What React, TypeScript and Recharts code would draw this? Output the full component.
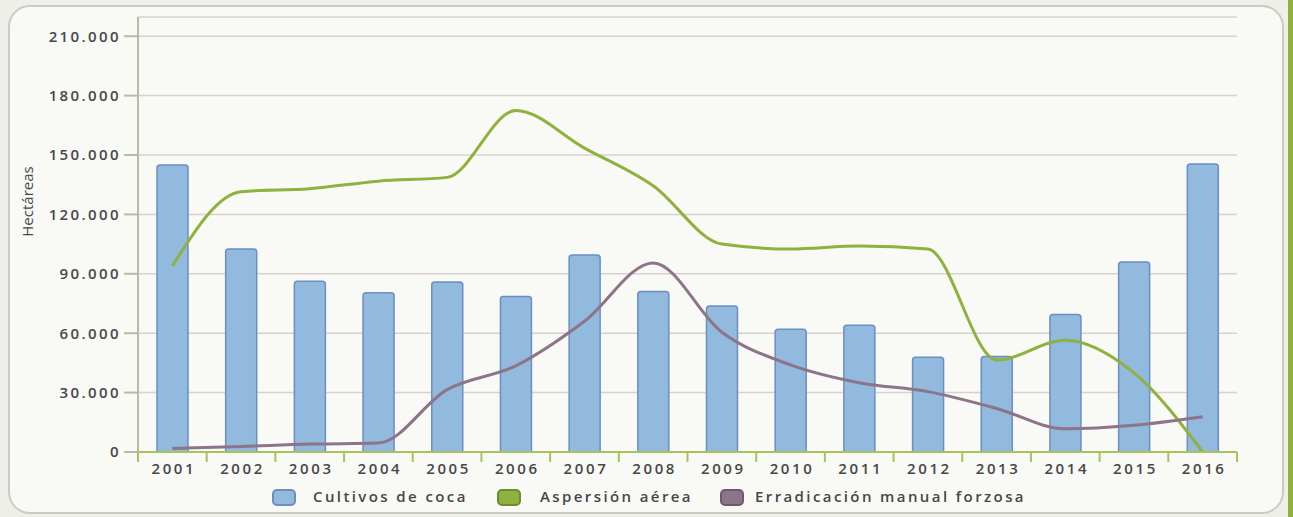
import { Bar, CartesianGrid, ComposedChart, Line, XAxis, YAxis } from "recharts";

const YEARS = ["2001", "2002", "2003", "2004", "2005", "2006", "2007", "2008", "2009", "2010", "2011", "2012", "2013", "2014", "2015", "2016"];
// hectáreas
const COCA = [145000, 102500, 86300, 80400, 85800, 78500, 99500, 81000, 73700, 62000, 64000, 47800, 48200, 69500, 96000, 145500];
const ASPERSION = [94000, 131500, 133000, 136800, 138700, 172500, 153500, 134500, 105000, 102500, 104000, 102500, 46500, 56500, 40000, 0];
const ERRADICACION = [1800, 2800, 4000, 4500, 31500, 43500, 66000, 95500, 60500, 44000, 35000, 30500, 22000, 11700, 13500, 17800];
const Y_TICKS = [0, 30000, 60000, 90000, 120000, 150000, 180000, 210000];

const SERIES = [
  { key: "coca", name: "Cultivos de coca", fill: "#92b9de", stroke: "#6a8fc0" },
  { key: "aspersion", name: "Aspersión aérea", fill: "#8fb23f", stroke: "#6d8a34" },
  { key: "erradicacion", name: "Erradicación manual forzosa", fill: "#8d7488", stroke: "#6c5a68" },
];

const rows = YEARS.map((year, i) => ({
  year,
  coca: COCA[i],
  aspersion: ASPERSION[i],
  erradicacion: ERRADICACION[i],
}));

const FONT = "'Open Sans', 'Noto Sans', sans-serif";
const TEXT = "#474747";
const W = 1293;
const H = 517;
const M = { top: 17, right: 56, bottom: 0, left: 0 };
const BAND = (W - 138 - M.right) / YEARS.length;

const fmt = (v: number) => String(v).replace(/\B(?=(\d{3})+(?!\d))/g, ".");

function YearTick(props: any) {
  const { x, y, payload, index } = props;
  const half = payload?.offset || BAND / 2;
  return (
    <g>
      {index === 0 && <line x1={x - half} x2={x - half} y1={y} y2={y + 10} stroke="#a8c25e" strokeWidth={2} />}
      <line x1={x + half} x2={x + half} y1={y} y2={y + 10} stroke="#a8c25e" strokeWidth={2} />
      <text x={x + 1.5} y={y + 22} textAnchor="middle" fill={TEXT} fontSize={15} fontWeight={600} fontFamily={FONT} letterSpacing={2.6}>
        {payload.value}
      </text>
    </g>
  );
}

function AxisTitle(props: any) {
  const vb = props.viewBox || { x: 0, y: 0, height: 0 };
  const cx = vb.x + 27;
  const cy = vb.y + vb.height / 2 - 33;
  return (
    <text x={cx} y={cy} transform={`rotate(-90 ${cx} ${cy})`} textAnchor="middle" dominantBaseline="central" fill={TEXT} fontSize={15} fontFamily={FONT}>
      Hectáreas
    </text>
  );
}

function LegendBox() {
  const boxes = [272, 497, 720];
  const texts = [313, 540, 755];
  return (
    <div style={{ position: "absolute", left: 0, top: 488, width: W, height: 20, fontFamily: FONT, fontSize: 15, fontWeight: 600, color: TEXT, letterSpacing: 2.4 }}>
      {SERIES.map((s, i) => (
        <div key={s.key}>
          <span
            style={{
              position: "absolute",
              left: boxes[i],
              top: 1,
              width: 20,
              height: 13,
              background: s.fill,
              border: `2px solid ${s.stroke}`,
              borderRadius: 5,
            }}
          />
          <span style={{ position: "absolute", left: texts[i], top: -2, whiteSpace: "nowrap" }}>{s.name}</span>
        </div>
      ))}
    </div>
  );
}

export default function App() {
  return (
    <div style={{ position: "absolute", left: 0, top: 0, width: W, height: H, background: "#efefea", overflow: "hidden" }}>
      <div
        style={{
          position: "absolute",
          left: 8,
          top: 5,
          width: 1272,
          height: 505,
          border: "2px solid #cbcbc2",
          borderRadius: 22,
          background: "#f9f9f6",
        }}
      />
      <div style={{ position: "absolute", left: 1288, top: 0, width: 5, height: H, background: "#8fb23f" }} />
      <div style={{ position: "absolute", left: 0, top: 0 }}>
        <ComposedChart width={W} height={H} data={rows} margin={M} barCategoryGap={0}>
          <CartesianGrid vertical={false} stroke="#dccfcf" strokeWidth={1.5} />
          <XAxis
            dataKey="year"
            axisLine={{ stroke: "#a8c25e", strokeWidth: 2 }}
            tickLine={false}
            tickSize={0}
            tickMargin={0}
            tick={<YearTick />}
            interval={0}
            height={65}
          />
          <YAxis
            width={138}
            domain={[0, 219700]}
            ticks={Y_TICKS}
            interval={0}
            allowDataOverflow
            tickFormatter={fmt}
            axisLine={{ stroke: "#b9bca4", strokeWidth: 2 }}
            tickLine={{ stroke: "#b9bca4", strokeWidth: 2 }}
            tickSize={14}
            tickMargin={3}
            tick={{ fill: TEXT, fontSize: 15, fontWeight: 600, fontFamily: FONT, letterSpacing: 2.4 }}
            label={<AxisTitle />}
          />
          <Bar
            dataKey="coca"
            name={SERIES[0].name}
            barSize={31}
            fill={SERIES[0].fill}
            stroke={SERIES[0].stroke}
            strokeWidth={1.5}
            radius={[3, 3, 0, 0]}
            isAnimationActive={false}
          />
          <Line
            dataKey="aspersion"
            name={SERIES[1].name}
            type="monotone"
            stroke={SERIES[1].fill}
            strokeWidth={3}
            dot={false}
            isAnimationActive={false}
          />
          <Line
            dataKey="erradicacion"
            name={SERIES[2].name}
            type="monotone"
            stroke={SERIES[2].fill}
            strokeWidth={3}
            dot={false}
            isAnimationActive={false}
          />
        </ComposedChart>
      </div>
      <LegendBox />
    </div>
  );
}
